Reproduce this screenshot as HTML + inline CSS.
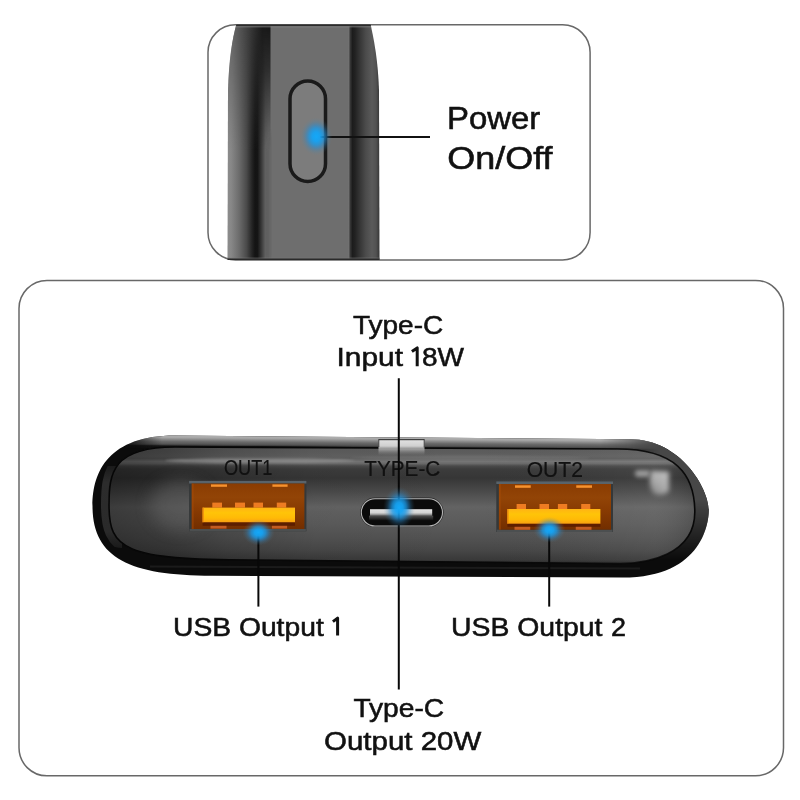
<!DOCTYPE html>
<html><head><meta charset="utf-8"><style>
html,body{margin:0;padding:0;background:#fff;width:800px;height:800px;overflow:hidden}
svg{position:absolute;left:0;top:0}
text{font-family:"Liberation Sans",sans-serif;fill:#111}
</style></head><body>
<svg width="800" height="800" viewBox="0 0 800 800" style="will-change:transform">
<defs>
  <clipPath id="topclip"><rect x="208" y="24.8" width="382.1" height="235.1" rx="27.5"/></clipPath>
  <linearGradient id="sideG" gradientUnits="userSpaceOnUse" x1="227" y1="0" x2="380" y2="0">
    <stop offset="0.0000" stop-color="#8c8c8c"/>
    <stop offset="0.0261" stop-color="#888"/>
    <stop offset="0.0784" stop-color="#6c6c6c"/>
    <stop offset="0.1275" stop-color="#4a4a4a"/>
    <stop offset="0.1634" stop-color="#242424"/>
    <stop offset="0.1830" stop-color="#141414"/>
    <stop offset="0.1993" stop-color="#151515"/>
    <stop offset="0.2255" stop-color="#3a3a3a"/>
    <stop offset="0.2516" stop-color="#626262"/>
    <stop offset="0.2745" stop-color="#6e6e6e"/>
    <stop offset="0.7895" stop-color="#6e6e6e"/>
    <stop offset="0.8039" stop-color="#3a3a3a"/>
    <stop offset="0.8203" stop-color="#1c1c1c"/>
    <stop offset="0.8366" stop-color="#222"/>
    <stop offset="0.8693" stop-color="#363636"/>
    <stop offset="0.9085" stop-color="#4c4c4c"/>
    <stop offset="0.9477" stop-color="#5a5a5a"/>
    <stop offset="0.9739" stop-color="#525252"/>
    <stop offset="0.9902" stop-color="#3e3e3e"/>
    <stop offset="1.0000" stop-color="#333"/>
  </linearGradient>
  <radialGradient id="glow">
    <stop offset="0" stop-color="#14a8f8"/>
    <stop offset="0.25" stop-color="#16a2f2" stop-opacity="0.96"/>
    <stop offset="0.45" stop-color="#1c98e4" stop-opacity="0.78"/>
    <stop offset="0.6" stop-color="#248ed6" stop-opacity="0.52"/>
    <stop offset="0.75" stop-color="#3088c4" stop-opacity="0.26"/>
    <stop offset="0.9" stop-color="#4088b4" stop-opacity="0.08"/>
    <stop offset="1" stop-color="#4088b4" stop-opacity="0"/>
  </radialGradient>
  <linearGradient id="faceV" gradientUnits="userSpaceOnUse" x1="0" y1="448" x2="0" y2="563">
    <stop offset="0.0000" stop-color="#5a5a5a"/>
    <stop offset="0.0348" stop-color="#5c5c5c"/>
    <stop offset="0.0696" stop-color="#606060"/>
    <stop offset="0.0913" stop-color="#5c5c5c"/>
    <stop offset="0.1174" stop-color="#747474"/>
    <stop offset="0.1348" stop-color="#6a6a6a"/>
    <stop offset="0.1565" stop-color="#4a4a4a"/>
    <stop offset="0.1826" stop-color="#3c3c3c"/>
    <stop offset="0.2609" stop-color="#363636"/>
    <stop offset="0.3391" stop-color="#434343"/>
    <stop offset="0.4261" stop-color="#535353"/>
    <stop offset="0.5130" stop-color="#636363"/>
    <stop offset="0.5565" stop-color="#606060"/>
    <stop offset="0.6696" stop-color="#5a5a5a"/>
    <stop offset="0.8000" stop-color="#505050"/>
    <stop offset="0.8870" stop-color="#474747"/>
    <stop offset="0.9391" stop-color="#3e3e3e"/>
    <stop offset="0.9739" stop-color="#393939"/>
    <stop offset="1.0000" stop-color="#2a2a2a"/>
  </linearGradient>
  <linearGradient id="shellV" gradientUnits="userSpaceOnUse" x1="0" y1="437" x2="0" y2="576">
    <stop offset="0" stop-color="#777"/>
    <stop offset="0.05" stop-color="#444"/>
    <stop offset="0.07" stop-color="#111"/>
    <stop offset="0.9" stop-color="#111"/>
    <stop offset="0.94" stop-color="#2a2a2a"/>
    <stop offset="1" stop-color="#0a0a0a"/>
  </linearGradient>
  <linearGradient id="usbIn" x1="0" y1="0" x2="0" y2="1">
    <stop offset="0" stop-color="#8a3c02"/>
    <stop offset="0.3" stop-color="#924406"/>
    <stop offset="0.6" stop-color="#873a02"/>
    <stop offset="1" stop-color="#722e00"/>
  </linearGradient>
  <linearGradient id="tongue" x1="0" y1="0" x2="0" y2="1">
    <stop offset="0" stop-color="#ffb414"/>
    <stop offset="0.35" stop-color="#ffc408"/>
    <stop offset="0.7" stop-color="#ffba06"/>
    <stop offset="1" stop-color="#f8a012"/>
  </linearGradient>
  <linearGradient id="cTongue" x1="0" y1="0" x2="0" y2="1">
    <stop offset="0" stop-color="#e4e4e4"/>
    <stop offset="0.55" stop-color="#d4d4d4"/>
    <stop offset="1" stop-color="#6a6a6a"/>
  </linearGradient>
  <clipPath id="outerClip"><path d="M175,435.6 L630,439.2 C681.2,439.2 708.8,488.85 708.8,510 C708.8,519.9 704.5,577.6 622.5,577.6 L212.5,575.7 C128.5,575.7 92.5,557.4 92.5,506 C92.5,471.25 109,435.6 175,435.6 Z"/></clipPath>
  <clipPath id="faceClip"><path d="M175,447 L617.5,449 C675.5,449 694.8,474.2 694.8,512 C694.8,555.2 646.2,563.5 620,563.5 L252.5,560 C123.35,560 109,549 109,505 C109,473.1 112.3,447 175,447 Z"/></clipPath>
  <filter id="blur3" x="-50%" y="-20%" width="200%" height="140%"><feGaussianBlur stdDeviation="3"/></filter>
  <filter id="blur2" x="-50%" y="-50%" width="200%" height="200%"><feGaussianBlur stdDeviation="2.2"/></filter>
  <filter id="blur3b" x="-50%" y="-50%" width="200%" height="200%"><feGaussianBlur stdDeviation="2.8"/></filter>
  <filter id="blur1" x="-20%" y="-200%" width="140%" height="500%"><feGaussianBlur stdDeviation="1.2"/></filter>
  <filter id="blur4" x="-50%" y="-50%" width="200%" height="200%"><feGaussianBlur stdDeviation="4"/></filter>
  <filter id="blur6" x="-50%" y="-50%" width="200%" height="200%"><feGaussianBlur stdDeviation="8"/></filter>
  <linearGradient id="topBand" gradientUnits="userSpaceOnUse" x1="0" y1="434.2" x2="0" y2="446.2">
    <stop offset="0" stop-color="#b0b0b0"/>
    <stop offset="0.17" stop-color="#a6a6a6"/>
    <stop offset="0.33" stop-color="#888"/>
    <stop offset="0.5" stop-color="#6a6a6a"/>
    <stop offset="0.7" stop-color="#555"/>
    <stop offset="0.8" stop-color="#3a3a3a"/>
    <stop offset="0.86" stop-color="#161616"/>
    <stop offset="1" stop-color="#111"/>
  </linearGradient>
  <linearGradient id="bandFade" gradientUnits="userSpaceOnUse" x1="120" y1="0" x2="720" y2="0">
    <stop offset="0" stop-color="#000"/>
    <stop offset="0.07" stop-color="#fff"/>
    <stop offset="0.85" stop-color="#fff"/>
    <stop offset="1" stop-color="#888"/>
  </linearGradient>
  <mask id="bandMask" maskUnits="userSpaceOnUse" x="0" y="0" width="800" height="800"><rect x="92" y="430" width="620" height="20" fill="url(#bandFade)"/></mask>
  <linearGradient id="rrFade" gradientUnits="userSpaceOnUse" x1="600" y1="0" x2="660" y2="0">
    <stop offset="0" stop-color="#000"/>
    <stop offset="1" stop-color="#fff"/>
  </linearGradient>
  <linearGradient id="rrFadeV" gradientUnits="userSpaceOnUse" x1="0" y1="500" x2="0" y2="560">
    <stop offset="0" stop-color="#fff"/>
    <stop offset="1" stop-color="#000"/>
  </linearGradient>
  <mask id="rrVMask" maskUnits="userSpaceOnUse" x="0" y="0" width="800" height="800"><rect x="560" y="430" width="160" height="160" fill="url(#rrFadeV)"/></mask>
  <mask id="rightRimMask" maskUnits="userSpaceOnUse" x="0" y="0" width="800" height="800"><g mask="url(#rrVMask)"><rect x="560" y="430" width="160" height="160" fill="url(#rrFade)"/></g></mask>
  <linearGradient id="faceH" gradientUnits="userSpaceOnUse" x1="109" y1="0" x2="695" y2="0">
    <stop offset="0" stop-color="#000" stop-opacity="0.4"/>
    <stop offset="0.1" stop-color="#000" stop-opacity="0.3"/>
    <stop offset="0.2" stop-color="#000" stop-opacity="0.15"/>
    <stop offset="0.35" stop-color="#000" stop-opacity="0.03"/>
    <stop offset="0.6" stop-color="#000" stop-opacity="0"/>
    <stop offset="0.85" stop-color="#fff" stop-opacity="0.03"/>
    <stop offset="0.93" stop-color="#fff" stop-opacity="0.05"/>
    <stop offset="1" stop-color="#000" stop-opacity="0.1"/>
  </linearGradient>
  <linearGradient id="notchG" x1="0" y1="0" x2="0" y2="1">
    <stop offset="0" stop-color="#e2e2e2"/>
    <stop offset="0.4" stop-color="#d0d0d0"/>
    <stop offset="0.6" stop-color="#b0b0b0" stop-opacity="0.8"/>
    <stop offset="1" stop-color="#808080" stop-opacity="0"/>
  </linearGradient>
  <linearGradient id="tlG" gradientUnits="userSpaceOnUse" x1="227" y1="0" x2="271" y2="0">
    <stop offset="0" stop-color="#6a6a6a"/>
    <stop offset="0.12" stop-color="#666"/>
    <stop offset="0.43" stop-color="#444"/>
    <stop offset="0.66" stop-color="#2a2a2a"/>
    <stop offset="0.8" stop-color="#1a1a1a"/>
    <stop offset="1" stop-color="#161616"/>
  </linearGradient>
  <linearGradient id="tlMaskG" gradientUnits="userSpaceOnUse" x1="0" y1="25" x2="0" y2="150">
    <stop offset="0" stop-color="#fff"/>
    <stop offset="0.35" stop-color="#bbb"/>
    <stop offset="1" stop-color="#000"/>
  </linearGradient>
  <mask id="tlMask" maskUnits="userSpaceOnUse" x="0" y="0" width="800" height="800"><rect x="220" y="20" width="60" height="140" fill="url(#tlMaskG)"/></mask>
  <clipPath id="sideClip"><path d="M236.5,24 L370.5,24 C374,40 378,60 379,90 L379.5,260 L227.5,260 L228,90 C229,60 232,40 236.5,24 Z"/></clipPath>
  <clipPath id="lrimClip"><path d="M90,466 L122,466 L122,548 C118,548 112,546 108,546 L90,546 Z"/></clipPath>
  <linearGradient id="lrimG" gradientUnits="userSpaceOnUse" x1="0" y1="466" x2="0" y2="548">
    <stop offset="0" stop-color="#1a1a1a"/>
    <stop offset="0.2" stop-color="#2c2c2c"/>
    <stop offset="0.8" stop-color="#2a2a2a"/>
    <stop offset="1" stop-color="#1a1a1a"/>
  </linearGradient>
  <linearGradient id="hlG" gradientUnits="userSpaceOnUse" x1="668" y1="472" x2="650" y2="495">
    <stop offset="0" stop-color="#c0c0c0"/>
    <stop offset="0.5" stop-color="#ababab"/>
    <stop offset="1" stop-color="#808080"/>
  </linearGradient>
  <linearGradient id="cUnder" x1="0" y1="0" x2="0" y2="1">
    <stop offset="0" stop-color="#505050"/>
    <stop offset="1" stop-color="#0b0b0b"/>
  </linearGradient>
</defs>

<!-- TOP PANEL -->
<rect x="208" y="24.8" width="382.1" height="235.1" rx="27.5" fill="#fff"/>
<g clip-path="url(#topclip)">
  <path d="M236.5,24 L370.5,24 C374,40 378,60 379,90 L379.5,260 L227.5,260 L228,90 C229,60 232,40 236.5,24 Z" fill="url(#sideG)"/>
  <!-- top-left curvature darkening -->
  <rect x="226" y="20" width="45" height="150" fill="url(#tlG)" mask="url(#tlMask)" clip-path="url(#sideClip)"/>
  <!-- center face -->
  <rect x="270.5" y="24" width="78" height="240" fill="#6e6e6e"/>
  <path d="M270.5,130 L270.5,262 L266,262 L266,150 Z" fill="#5a5a5a" opacity="0.6" filter="url(#blur1)"/>
  <line x1="348.8" y1="24" x2="348.8" y2="262" stroke="#7a7a7a" stroke-width="0.8"/>
  <!-- power button -->
  <rect x="290" y="81" width="35.5" height="100.5" rx="17.75" fill="#7c7c7c" stroke="#1a1a1a" stroke-width="3.5"/>
</g>
<line x1="320" y1="137" x2="430" y2="137" stroke="#111" stroke-width="2"/>
<ellipse cx="316.2" cy="136.5" rx="16" ry="19" fill="url(#glow)"/>
<rect x="208" y="24.8" width="382.1" height="235.1" rx="27.5" fill="none" stroke="#686868" stroke-width="1.5"/>
<g clip-path="url(#sideClip)">
  <line x1="220" y1="25.4" x2="390" y2="25.4" stroke="#2c2c2c" stroke-width="1.7"/>
  <line x1="220" y1="26.8" x2="390" y2="26.8" stroke="#858585" stroke-width="1" opacity="0.8"/>
  <line x1="220" y1="258.2" x2="390" y2="258.2" stroke="#7c7c7c" stroke-width="1" opacity="0.8"/>
  <line x1="220" y1="259.4" x2="390" y2="259.4" stroke="#2a2a2a" stroke-width="1.6"/>
</g>
<text x="447.00" y="129.20" font-size="30.70" textLength="93.30" lengthAdjust="spacingAndGlyphs" stroke="#111" stroke-width="0.55">Power</text>
<text x="447.20" y="168.50" font-size="30.70" textLength="105.30" lengthAdjust="spacingAndGlyphs" stroke="#111" stroke-width="0.55">On/Off</text>

<!-- BOTTOM PANEL -->
<rect x="19" y="280.4" width="764.5" height="495.4" rx="28" fill="#fff" stroke="#686868" stroke-width="1.5"/>

<!-- device -->
<path id="outerP" d="M175,435.6 L630,439.2 C681.2,439.2 708.8,488.85 708.8,510 C708.8,519.9 704.5,577.6 622.5,577.6 L212.5,575.7 C128.5,575.7 92.5,557.4 92.5,506 C92.5,471.25 109,435.6 175,435.6 Z" fill="#0b0b0b"/>
<g clip-path="url(#outerClip)">
  <!-- top gray band -->
  <g mask="url(#bandMask)"><rect x="92" y="433" width="620" height="14" fill="url(#topBand)" transform="skewY(0.44)"/></g>
  <!-- right rim gray -->
  <path d="M560,435 L720,435 L720,580 L560,580 Z" fill="#474747" mask="url(#rightRimMask)"/>
  <!-- left inner rim highlight -->
  <path d="M175,447 L617.5,449 C675.5,449 694.8,474.2 694.8,512 C694.8,555.2 646.2,563.5 620,563.5 L252.5,560 C123.35,560 109,549 109,505 C109,473.1 112.3,447 175,447 Z" fill="none" stroke="url(#lrimG)" stroke-width="16" clip-path="url(#lrimClip)"/>
  <!-- bottom rim line -->
  <path d="M150,566.5 L640,568.5" stroke="#222" stroke-width="2" fill="none" opacity="0.7"/>
</g>
<path id="faceP" d="M175,447 L617.5,449 C675.5,449 694.8,474.2 694.8,512 C694.8,555.2 646.2,563.5 620,563.5 L252.5,560 C123.35,560 109,549 109,505 C109,473.1 112.3,447 175,447 Z" fill="url(#faceV)" stroke="#080808" stroke-width="1.6"/>
<g clip-path="url(#faceClip)">
  <rect x="100" y="440" width="600" height="130" fill="url(#faceH)"/>
  <!-- highlight streak -->
  <ellipse cx="260" cy="460.5" rx="95" ry="2.6" fill="#9a9a9a" opacity="0.55" filter="url(#blur1)"/>
  <ellipse cx="470" cy="458" rx="120" ry="2.2" fill="#8a8a8a" opacity="0.35" filter="url(#blur1)"/>
  <!-- light blobs -->
  <ellipse cx="180" cy="505" rx="30" ry="25" fill="#6a6a6a" opacity="0.45" filter="url(#blur6)"/>
  <path d="M651,470.5 L669,471.5 L669,491 C665,496 657,496 653,493 C649,486 649,478 651,470.5 Z" fill="url(#hlG)" filter="url(#blur3b)"/>
  <rect x="635" y="470" width="15" height="7" rx="3" fill="#9a9a9a" filter="url(#blur2)"/>
</g>
<!-- notch -->
<rect x="378.5" y="439.5" width="46" height="16" fill="url(#notchG)"/>
<line x1="378.5" y1="439.7" x2="424.5" y2="439.7" stroke="#222" stroke-width="1"/>
<line x1="378.8" y1="439.5" x2="378.8" y2="447" stroke="#222" stroke-width="0.8"/>
<line x1="424.2" y1="439.5" x2="424.2" y2="447.5" stroke="#222" stroke-width="0.8"/>

<!-- labels on device -->
<text x="224.00" y="475.20" font-size="21.60" textLength="48.40" lengthAdjust="spacingAndGlyphs" stroke="#0a0a0a" stroke-width="0.15" fill="#0a0a0a">OUT1</text>
<text x="364.25" y="476.00" font-size="21.60" textLength="76.00" lengthAdjust="spacingAndGlyphs" stroke="#0a0a0a" stroke-width="0.15" fill="#0a0a0a">TYPE-C</text>
<text x="526.70" y="476.50" font-size="21.60" textLength="56.20" lengthAdjust="spacingAndGlyphs" stroke="#0a0a0a" stroke-width="0.15" fill="#0a0a0a">OUT2</text>

<!-- USB 1 -->
<rect x="189.1" y="480.9" width="117.30" height="50.40" fill="#353839"/>
<rect x="189.1" y="480.9" width="117.30" height="2.6" fill="#59636a"/>
<rect x="189.6" y="529.00" width="116.30" height="2.3" fill="#4c4f50"/>
<rect x="191.70" y="483.50" width="112.70" height="45.50" fill="url(#usbIn)"/>
<rect x="191.70" y="483.50" width="2" height="45.50" fill="#a84c08" opacity="0.5"/>
<rect x="211" y="484.4" width="16.00" height="2.40" fill="#f7922e"/>
<rect x="272.4" y="484.4" width="15.20" height="2.40" fill="#f7922e"/>
<rect x="212.3" y="502.6" width="9.70" height="5.00" fill="#ee7c22"/>
<rect x="235" y="502.6" width="10.00" height="5.00" fill="#ee7c22"/>
<rect x="253.5" y="502.6" width="9.50" height="5.00" fill="#ee7c22"/>
<rect x="276.8" y="502.6" width="9.40" height="5.00" fill="#ee7c22"/>
<rect x="202.6" y="507.6" width="92.40" height="14.80" fill="url(#tongue)"/>
<rect x="202.6" y="507.6" width="1.2" height="14.80" fill="#f08a10"/>
<rect x="202.6" y="522.4" width="92.40" height="3.40" fill="#561a00" opacity="0.8"/>
<rect x="210.5" y="525.8" width="16.00" height="2.80" fill="#c45c22"/>
<rect x="271.9" y="525.8" width="15.20" height="2.80" fill="#c45c22"/>

<!-- USB 2 -->
<rect x="496.3" y="481.4" width="116.70" height="50.60" fill="#353839"/>
<rect x="496.3" y="481.4" width="116.70" height="2.6" fill="#59636a"/>
<rect x="496.8" y="529.70" width="115.70" height="2.3" fill="#4c4f50"/>
<rect x="498.90" y="484.00" width="112.10" height="45.70" fill="url(#usbIn)"/>
<rect x="498.90" y="484.00" width="2" height="45.70" fill="#a84c08" opacity="0.5"/>
<rect x="515" y="485.3" width="15.75" height="2.50" fill="#f7922e"/>
<rect x="576.25" y="485.3" width="15.75" height="2.50" fill="#f7922e"/>
<rect x="516.6" y="504" width="9.40" height="5.00" fill="#ee7c22"/>
<rect x="539.5" y="504" width="9.50" height="5.00" fill="#ee7c22"/>
<rect x="557.9" y="504" width="9.30" height="5.00" fill="#ee7c22"/>
<rect x="581.2" y="504" width="9.10" height="5.00" fill="#ee7c22"/>
<rect x="507.4" y="509" width="93.00" height="14.80" fill="url(#tongue)"/>
<rect x="507.4" y="509" width="1.2" height="14.80" fill="#f08a10"/>
<rect x="507.4" y="523.8" width="93.00" height="3.00" fill="#561a00" opacity="0.8"/>
<rect x="514.5" y="526.8" width="15.75" height="3.00" fill="#c45c22"/>
<rect x="575.75" y="526.8" width="15.75" height="3.00" fill="#c45c22"/>

<!-- Type-C port -->
<rect x="360.2" y="497.6" width="83.4" height="29.5" rx="14.75" fill="#262626"/>
<rect x="361.3" y="498.7" width="81.2" height="27.3" rx="13.65" fill="#0b0b0b" stroke="#b4b4b4" stroke-width="1.1"/>
<rect x="369" y="515.7" width="64.2" height="5" fill="url(#cUnder)"/>
<rect x="370" y="509.2" width="62.2" height="6.6" fill="url(#cTongue)"/>

<!-- leader lines -->
<line x1="398.8" y1="378.2" x2="398.8" y2="689.4" stroke="#080808" stroke-width="2"/>
<line x1="258.4" y1="533" x2="258.4" y2="606.6" stroke="#080808" stroke-width="2"/>
<line x1="549.2" y1="530" x2="549.2" y2="606.6" stroke="#080808" stroke-width="2"/>

<!-- glows -->
<ellipse cx="258.5" cy="532.5" rx="16" ry="13" fill="url(#glow)"/>
<ellipse cx="399.1" cy="507.7" rx="16" ry="21" fill="url(#glow)"/>
<ellipse cx="549.5" cy="529.8" rx="16" ry="13" fill="url(#glow)"/>

<text x="353.00" y="333.60" font-size="26.70" textLength="90.25" lengthAdjust="spacingAndGlyphs" stroke="#111" stroke-width="0.55">Type-C</text>
<text x="336.50" y="366.20" font-size="26.70" textLength="66.50" lengthAdjust="spacingAndGlyphs" stroke="#111" stroke-width="0.55">Input</text>
<text x="422.00" y="366.20" font-size="26.70" textLength="42.00" lengthAdjust="spacingAndGlyphs" stroke="#111" stroke-width="0.55">8W</text>
<text x="173.00" y="635.50" font-size="26.70" textLength="150.75" lengthAdjust="spacingAndGlyphs" stroke="#111" stroke-width="0.55">USB Output</text>
<text x="451.00" y="635.50" font-size="26.70" textLength="151.50" lengthAdjust="spacingAndGlyphs" stroke="#111" stroke-width="0.55">USB Output</text>
<text x="611.00" y="635.50" font-size="26.70" textLength="15.00" lengthAdjust="spacingAndGlyphs" stroke="#111" stroke-width="0.55">2</text>
<text x="353.40" y="717.40" font-size="26.70" textLength="90.80" lengthAdjust="spacingAndGlyphs" stroke="#111" stroke-width="0.55">Type-C</text>
<text x="324.10" y="749.90" font-size="26.70" textLength="157.10" lengthAdjust="spacingAndGlyphs" stroke="#111" stroke-width="0.55">Output 20W</text>
<path d="M411.9,351.5 L417.2,347.9 L417.2,366.2" fill="none" stroke="#111" stroke-width="3" stroke-linejoin="round"/>
<path d="M332.9,621.6 L337.6,618.1 L337.6,635.5" fill="none" stroke="#111" stroke-width="3" stroke-linejoin="round"/>
</svg>
</body></html>
